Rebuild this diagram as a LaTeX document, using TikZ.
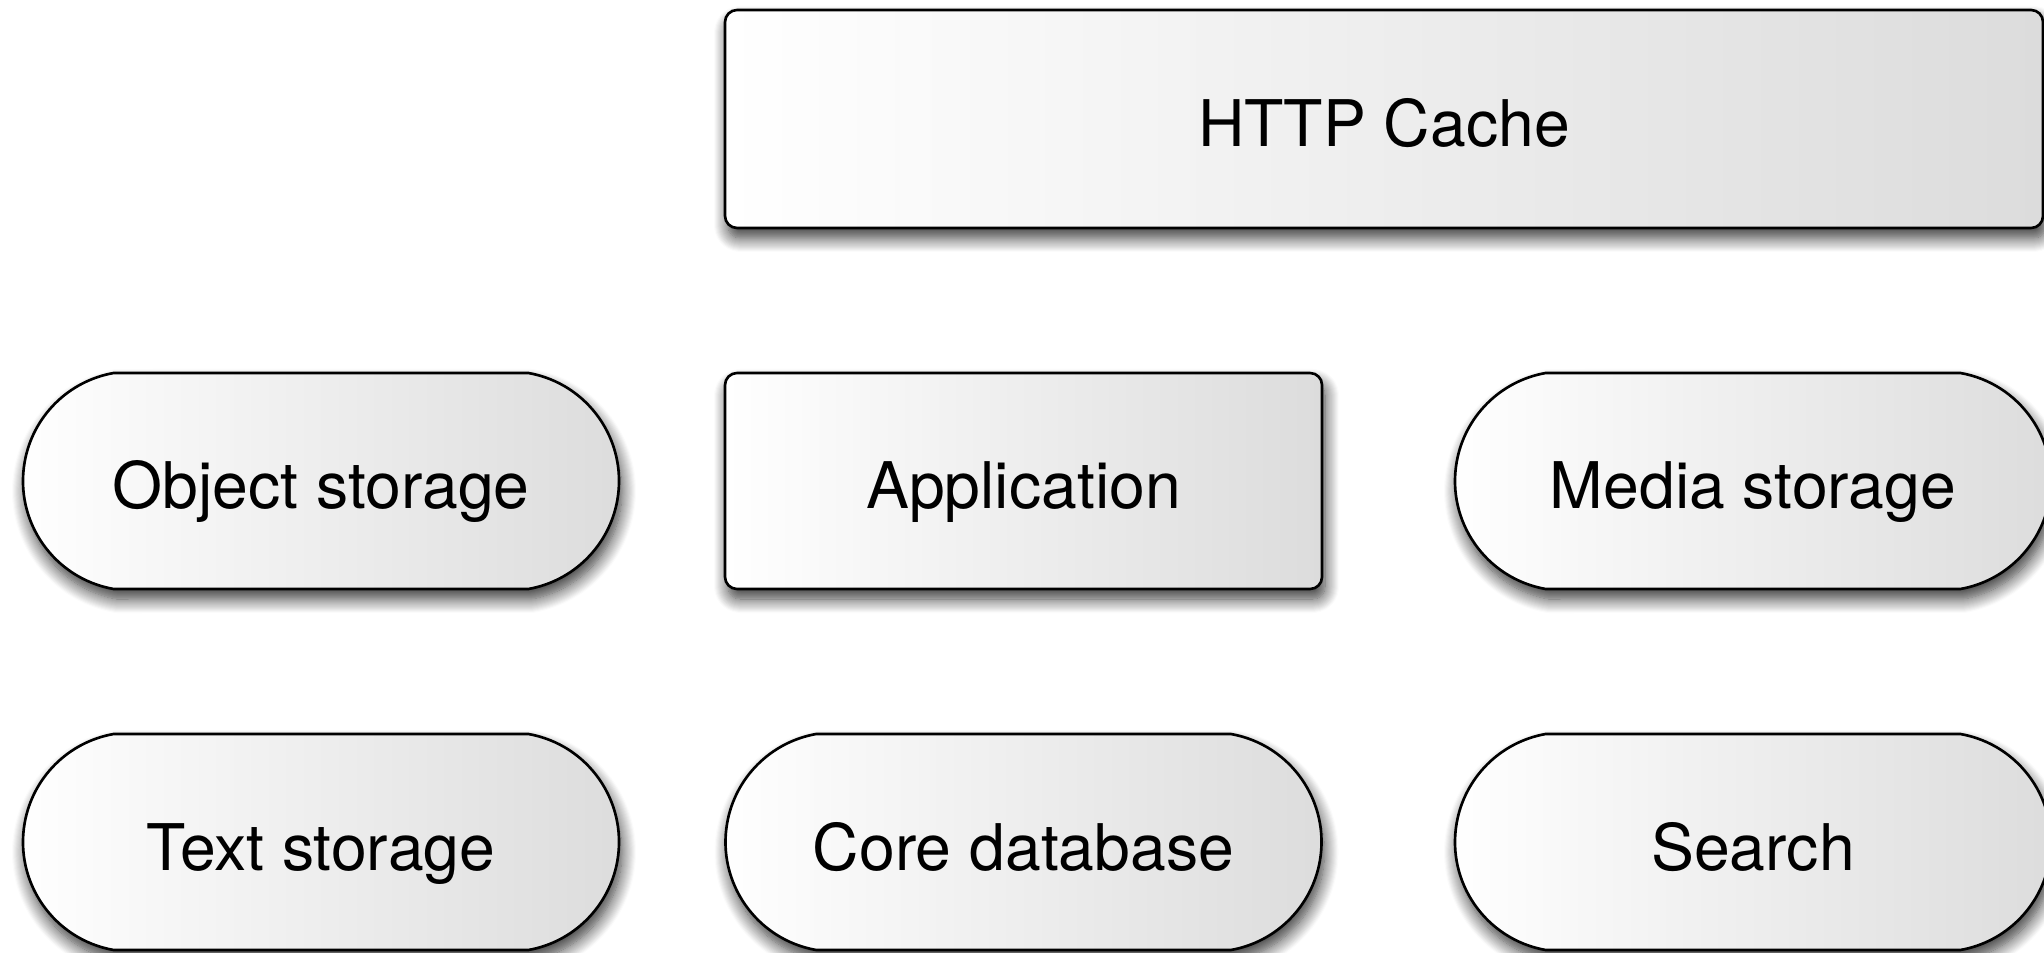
\documentclass[tikz,border=0pt]{standalone}
\usepackage{fontspec}
\setmainfont{TeX Gyre Heros}
\usetikzlibrary{shapes.misc,shadows.blur}
\definecolor{boxend}{RGB}{220,220,220}
\begin{document}
\begin{tikzpicture}[
  x=1cm, y=1cm,
  block/.style={
    draw=black, line width=0.75pt,
    left color=white, right color=boxend,
    blur shadow={shadow xshift=0.03cm, shadow yshift=-0.1cm,
                 shadow blur radius=0.14cm, shadow blur steps=14,
                 shadow opacity=80},
    inner sep=0pt, font=\fontsize{18.3}{22}\selectfont,
    text height=0.56cm, text depth=0cm,
    minimum height=2.16cm},
  service/.style={block, rectangle, rounded corners=0.12cm},
  store/.style={block, rounded rectangle, rounded rectangle arc length=160,
                minimum width=5.96cm}
]
\useasboundingbox (0,0) rectangle (20.44,9.52);
\clip (0,0) rectangle (20.44,9.52);

% top layer
\node[service, minimum width=13.18cm, minimum height=2.18cm] (cache) at (13.84,8.33) {HTTP Cache};

% middle layer
\node[store] (object) at (3.21,4.71) {Object storage};
\node[service, minimum width=5.97cm] (app) at (10.235,4.71) {Application};
\node[store] (media) at (17.53,4.71) {Media storage};

% bottom layer
\node[store] (text) at (3.21,1.10) {Text storage};
\node[store] (core) at (10.235,1.10) {Core database};
\node[store] (search) at (17.53,1.10) {Search};
\end{tikzpicture}
\end{document}
